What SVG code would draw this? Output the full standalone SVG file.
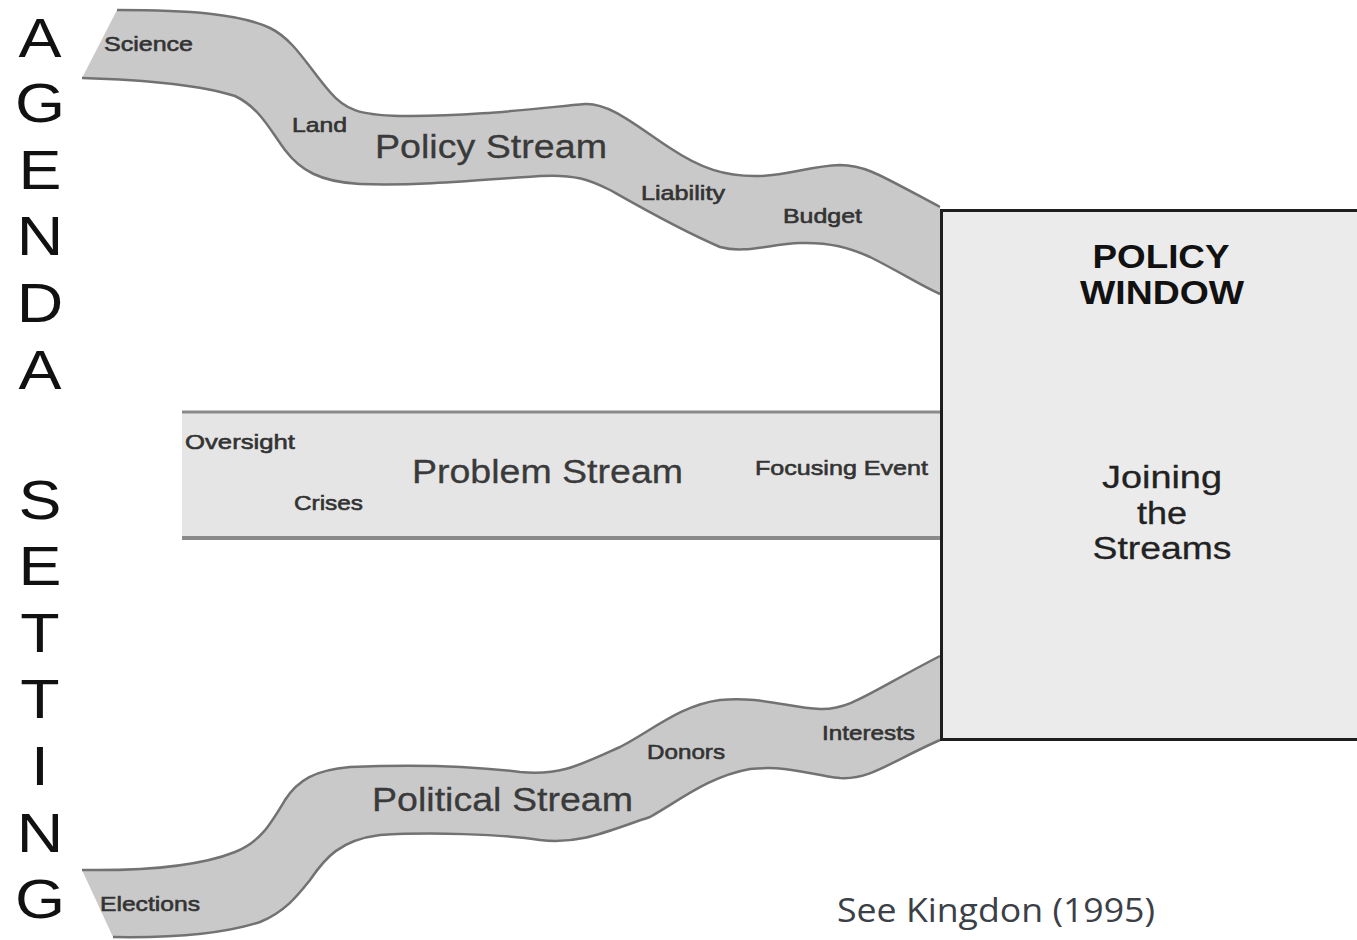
<svg xmlns="http://www.w3.org/2000/svg" width="1357" height="940" viewBox="0 0 1357 940">
<style>
.fill{fill:#c9c9c9;stroke:none}
.edge{fill:none;stroke:#727272;stroke-width:2.5}
.lbl{font-family:"Liberation Sans",Arial,sans-serif;font-size:21px;fill:#333;stroke:#333;stroke-width:0.6}
.big{font-family:"Liberation Sans",Arial,sans-serif;font-size:33px;fill:#3a3a3a;stroke:#3a3a3a;stroke-width:0.3}
.side{font-family:"Liberation Sans",Arial,sans-serif;font-size:56px;fill:#111;text-anchor:middle}
.win{font-family:"Liberation Sans",Arial,sans-serif;font-size:34px;font-weight:bold;fill:#111;text-anchor:middle}
.join{font-family:"Liberation Sans",Arial,sans-serif;font-size:31px;fill:#222;text-anchor:middle;stroke:#222;stroke-width:0.3}
</style>
<rect width="1357" height="940" fill="#fff"/>

<g id="agenda-setting" transform="translate(40,0) scale(1.15,1)">
<text class="side" x="0" y="57">A</text>
<text class="side" x="0" y="122">G</text>
<text class="side" x="0" y="189">E</text>
<text class="side" x="0" y="255">N</text>
<text class="side" x="0" y="322">D</text>
<text class="side" x="0" y="389">A</text>
<text class="side" x="0" y="519">S</text>
<text class="side" x="0" y="585">E</text>
<text class="side" x="0" y="652">T</text>
<text class="side" x="0" y="718">T</text>
<text class="side" x="0" y="785">I</text>
<text class="side" x="0" y="852">N</text>
<text class="side" x="0" y="918">G</text>
</g>

<g id="policy-stream">
<path class="fill" d="M117,10 C190,10 240,14 270,28 C295,40 310,70 330,92 C345,110 360,115 400,116 C470,117 540,108 585,104 C610,103 635,125 670,148 C700,168 725,177 760,176 C790,175 810,166 840,165 C865,165 880,175 940,207 L940,294 C920,285 900,272 870,257 C850,248 830,242 800,243 C770,244 745,254 720,247 C680,230 640,207 610,190 C590,180 575,174 540,176 C480,180 420,186 360,184 C320,182 300,170 285,150 C270,130 260,108 235,96 C200,85 150,80 82,78 Z"/>
<path class="edge" d="M117,10 C190,10 240,14 270,28 C295,40 310,70 330,92 C345,110 360,115 400,116 C470,117 540,108 585,104 C610,103 635,125 670,148 C700,168 725,177 760,176 C790,175 810,166 840,165 C865,165 880,175 940,207"/>
<path class="edge" d="M82,78 C150,80 200,85 235,96 C260,108 270,130 285,150 C300,170 320,182 360,184 C420,186 480,180 540,176 C575,174 590,180 610,190 C640,207 680,230 720,247 C745,254 770,244 800,243 C830,242 850,248 870,257 C900,272 920,285 940,294"/>
<text class="lbl" x="104" y="51" textLength="89" lengthAdjust="spacingAndGlyphs">Science</text>
<text class="lbl" x="292" y="132" textLength="55" lengthAdjust="spacingAndGlyphs">Land</text>
<text class="big" x="375" y="158" textLength="232" lengthAdjust="spacingAndGlyphs">Policy Stream</text>
<text class="lbl" x="641" y="200" textLength="84" lengthAdjust="spacingAndGlyphs">Liability</text>
<text class="lbl" x="783" y="223" textLength="79" lengthAdjust="spacingAndGlyphs">Budget</text>
</g>

<g id="problem-stream">
<rect x="182" y="412" width="758" height="125" fill="#e5e5e5"/>
<line x1="182" y1="412" x2="940" y2="412" stroke="#8a8a8a" stroke-width="3"/>
<line x1="182" y1="538" x2="940" y2="538" stroke="#8a8a8a" stroke-width="4"/>
<text class="lbl" x="185" y="449" textLength="110" lengthAdjust="spacingAndGlyphs">Oversight</text>
<text class="lbl" x="294" y="510" textLength="69" lengthAdjust="spacingAndGlyphs">Crises</text>
<text class="big" x="412" y="483" textLength="271" lengthAdjust="spacingAndGlyphs">Problem Stream</text>
<text class="lbl" x="755" y="475" textLength="173" lengthAdjust="spacingAndGlyphs">Focusing Event</text>
</g>

<g id="political-stream">
<path class="fill" d="M82,870 C150,871 200,866 235,852 C260,842 270,825 285,800 C298,780 315,770 350,767 C420,764 480,767 520,772 C560,776 580,765 620,747 C650,732 680,705 720,700 C760,696 790,708 820,709 C850,710 870,692 940,656 L940,740 C890,762 870,780 840,778 C810,775 790,765 750,769 C710,776 680,800 650,817 C610,830 580,845 540,840 C500,834 430,832 380,835 C340,840 325,858 310,880 C298,895 285,912 260,922 C220,935 170,938 113,937 Z"/>
<path class="edge" d="M82,870 C150,871 200,866 235,852 C260,842 270,825 285,800 C298,780 315,770 350,767 C420,764 480,767 520,772 C560,776 580,765 620,747 C650,732 680,705 720,700 C760,696 790,708 820,709 C850,710 870,692 940,656"/>
<path class="edge" d="M113,937 C170,938 220,935 260,922 C285,912 298,895 310,880 C325,858 340,840 380,835 C430,832 500,834 540,840 C580,845 610,830 650,817 C680,800 710,776 750,769 C790,765 810,775 840,778 C870,780 890,762 940,740"/>
<text class="lbl" x="100" y="911" textLength="100" lengthAdjust="spacingAndGlyphs">Elections</text>
<text class="big" x="372" y="811" textLength="261" lengthAdjust="spacingAndGlyphs">Political Stream</text>
<text class="lbl" x="647" y="759" textLength="78" lengthAdjust="spacingAndGlyphs">Donors</text>
<text class="lbl" x="822" y="740" textLength="93" lengthAdjust="spacingAndGlyphs">Interests</text>
</g>

<g id="policy-window">
<rect x="941.5" y="210.5" width="440" height="529" fill="#ebebeb" stroke="#1e1e1e" stroke-width="3"/>
<text class="win" x="1161" y="268" textLength="137" lengthAdjust="spacingAndGlyphs">POLICY</text>
<text class="win" x="1162" y="304" textLength="164" lengthAdjust="spacingAndGlyphs">WINDOW</text>
<text class="join" x="1162" y="488" textLength="120" lengthAdjust="spacingAndGlyphs">Joining</text>
<text class="join" x="1162" y="524" textLength="50" lengthAdjust="spacingAndGlyphs">the</text>
<text class="join" x="1162" y="559" textLength="139" lengthAdjust="spacingAndGlyphs">Streams</text>
</g>

<g id="citation">
<text x="837" y="922" font-family="'Open Sans','Noto Sans',sans-serif" font-size="33" fill="#3b4046" textLength="318" lengthAdjust="spacingAndGlyphs">See Kingdon (1995)</text>
</g>
</svg>
